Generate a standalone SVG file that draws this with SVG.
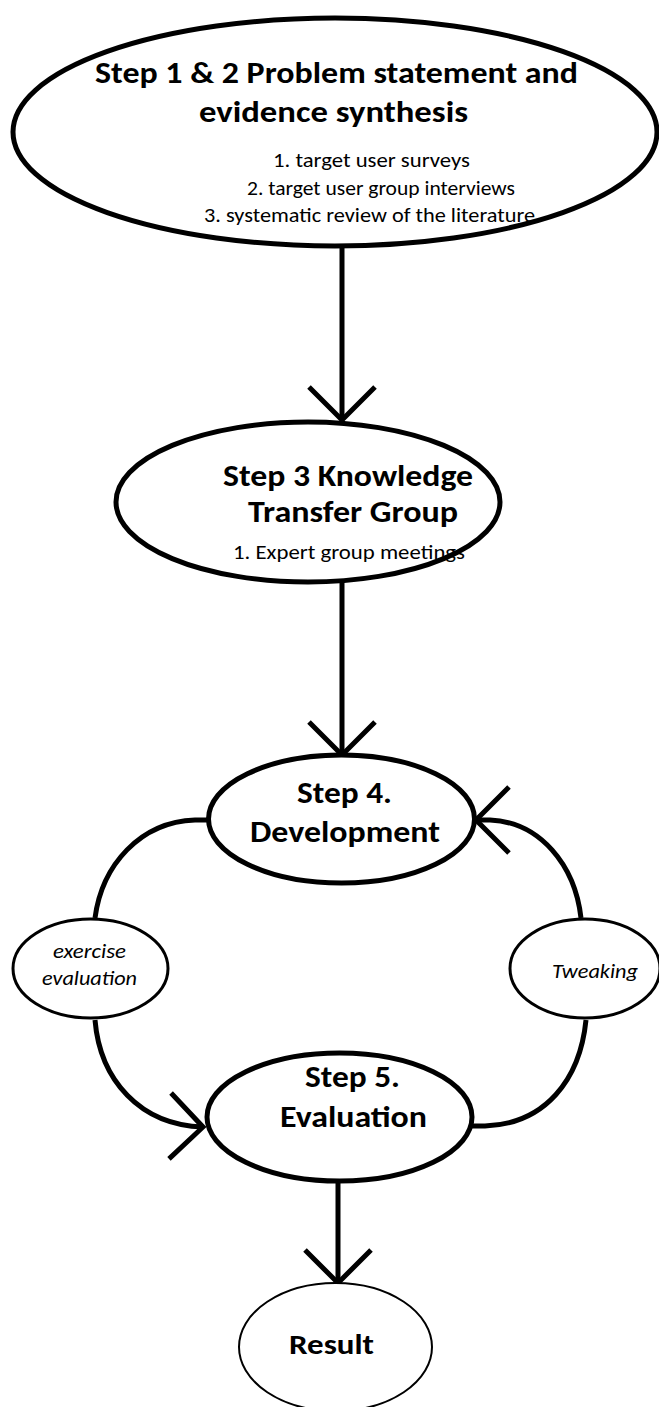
<svg xmlns="http://www.w3.org/2000/svg" width="659" height="1407" viewBox="0 0 659 1407">
<style>
  .bg { fill: #ffffff; }
  .big { fill: #ffffff; stroke: #000000; stroke-width: 5; }
  .small { fill: #ffffff; stroke: #000000; stroke-width: 3; }
  .thin { fill: #ffffff; stroke: #000000; stroke-width: 2; }
  .conn { fill: none; stroke: #000000; stroke-width: 5; }
  .t { font-family: Carlito, Lato, "Open Sans", sans-serif; fill: #000000; }
  .b { font-weight: bold; }
  .i { font-style: italic; }
</style>
<defs>
  <marker id="v" markerUnits="userSpaceOnUse" viewBox="-40 -40 50 80" refX="0" refY="0" markerWidth="50" markerHeight="80" orient="auto" overflow="visible">
    <path d="M-33,-33 L0,0 L-33,33" fill="none" stroke="#000000" stroke-width="5" stroke-linejoin="miter"/>
  </marker>
</defs>
<rect class="bg" x="0" y="0" width="659" height="1407"/>

<g id="connectors">
  <path class="conn" d="M342,248 V420" marker-end="url(#v)"/>
  <path class="conn" d="M342,581 V755" marker-end="url(#v)"/>
  <path class="conn" d="M208,820 H195 C140,822 102,865 95,918"/>
  <path class="conn" d="M95,1020 C100,1080 140,1125 203,1127" marker-end="url(#v)"/>
  <path class="conn" d="M472,1126 H485 C545,1124 580,1080 586,1020"/>
  <path class="conn" d="M581,918 C575,865 540,822 490,820 H476" marker-end="url(#v)"/>
  <path class="conn" d="M338,1181 V1283" marker-end="url(#v)"/>
</g>

<g id="step12">
  <ellipse class="big" cx="335" cy="132" rx="322" ry="114"/>
  <text class="t b" x="95" y="83" font-size="31" textLength="483" lengthAdjust="spacingAndGlyphs">Step 1 &amp; 2 Problem statement and</text>
  <text class="t b" x="199" y="122" font-size="31" textLength="269" lengthAdjust="spacingAndGlyphs">evidence synthesis</text>
  <text class="t" x="273" y="167" font-size="21" textLength="197" lengthAdjust="spacingAndGlyphs">1. target user surveys</text>
  <text class="t" x="247" y="195" font-size="21" textLength="268" lengthAdjust="spacingAndGlyphs">2. target user group interviews</text>
  <text class="t" x="204" y="222" font-size="21" textLength="331" lengthAdjust="spacingAndGlyphs">3. systematic review of the literature</text>
</g>

<g id="step3">
  <ellipse class="big" cx="308" cy="502" rx="192" ry="80"/>
  <text class="t b" x="223" y="486" font-size="31" textLength="250" lengthAdjust="spacingAndGlyphs">Step 3 Knowledge</text>
  <text class="t b" x="248" y="522" font-size="31" textLength="210" lengthAdjust="spacingAndGlyphs">Transfer Group</text>
  <text class="t" x="233" y="559" font-size="21" textLength="232" lengthAdjust="spacingAndGlyphs">1. Expert group meetings</text>
</g>

<g id="step4">
  <ellipse class="big" cx="341.5" cy="819" rx="133" ry="64"/>
  <text class="t b" x="297" y="803" font-size="30" textLength="95" lengthAdjust="spacingAndGlyphs">Step 4.</text>
  <text class="t b" x="250" y="842" font-size="30" textLength="190" lengthAdjust="spacingAndGlyphs">Development</text>
</g>

<g id="exercise">
  <ellipse class="small" cx="90.5" cy="968.5" rx="77.5" ry="49.5"/>
  <text class="t i" x="53" y="958" font-size="21" textLength="73" lengthAdjust="spacingAndGlyphs">exercise</text>
  <text class="t i" x="42" y="985" font-size="21" textLength="95" lengthAdjust="spacingAndGlyphs">evaluation</text>
</g>

<g id="tweaking">
  <ellipse class="small" cx="585" cy="968.5" rx="75" ry="49.5"/>
  <text class="t i" x="552" y="978" font-size="21" textLength="86" lengthAdjust="spacingAndGlyphs">Tweaking</text>
</g>

<g id="step5">
  <ellipse class="big" cx="339.5" cy="1117" rx="132.5" ry="64"/>
  <text class="t b" x="305" y="1087" font-size="30" textLength="95" lengthAdjust="spacingAndGlyphs">Step 5.</text>
  <text class="t b" x="280" y="1127" font-size="30" textLength="147" lengthAdjust="spacingAndGlyphs">Evaluation</text>
</g>

<g id="result">
  <ellipse class="thin" cx="335.5" cy="1347" rx="96.5" ry="64"/>
  <text class="t b" x="289" y="1354" font-size="28" textLength="85" lengthAdjust="spacingAndGlyphs">Result</text>
</g>
</svg>
